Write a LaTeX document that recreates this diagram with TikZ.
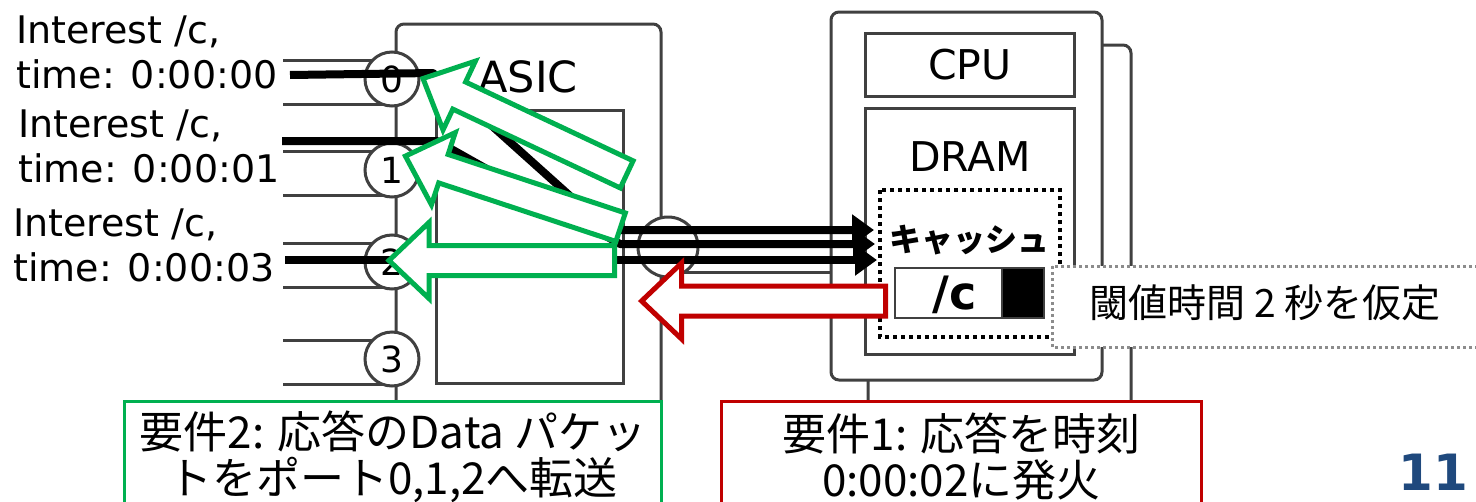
\documentclass[tikz,border=0pt]{standalone}
\usepackage{fontspec}
\setmainfont{DejaVu Sans}
\newfontfamily\jp{Noto Sans CJK JP}
\usepackage{xcolor}
\definecolor{frame}{RGB}{64,64,64}
\definecolor{okgreen}{RGB}{0,176,80}
\definecolor{ngred}{RGB}{192,0,0}
\definecolor{notegray}{RGB}{140,140,140}
\definecolor{slideblue}{RGB}{31,73,125}
\usetikzlibrary{arrows.meta,calc,positioning}

% outlined block arrow from tail to tip
\newcommand{\hollowarrow}[3]{%
  \draw[blockarrow, draw=#1] let \p1=(#2), \p2=(#3),
      \n1={atan2(\y2-\y1,\x2-\x1)}, \n2={veclen(\x2-\x1,\y2-\y1)}, \n3={\n2-40pt} in
    [shift={(\p1)}, rotate=\n1]
    (0pt,-15pt) -- (\n3,-15pt) -- (\n3,-38pt) -- (\n2,0pt)
    -- (\n3,38pt) -- (\n3,15pt) -- (0pt,15pt) -- cycle;}

\begin{document}
\begin{tikzpicture}[x=1pt, y=-1pt,
    box/.style={draw=frame, line width=3pt, fill=white},
    link/.style={draw=frame, line width=3pt},
    port/.style={circle, draw=frame, line width=3pt, fill=white, inner sep=0pt, minimum size=54pt, font=\fontsize{36}{36}\selectfont},
    route/.style={line width=8pt, line join=round, -{Triangle[length=22pt, width=30pt]}},
    blockarrow/.style={line width=5pt, fill=white, line join=miter},
    iflabel/.style={anchor=west, align=left, inner sep=0pt, font=\fontsize{38}{45}\selectfont},
    reqbox/.style={anchor=north west, line width=3pt, fill=white, align=center, minimum height=110pt, inner sep=0pt, font=\jp\fontsize{44}{46}\selectfont}]
    \useasboundingbox (0,0) rectangle (1476,501);

    % ASIC
    \draw[box, rounded corners=8pt] (396,24) rectangle (661,530);
    \draw[box] (436,110) rectangle (623,383);
    \node (asic) at (528,77) {\fontsize{43}{43}\selectfont ASIC};
    \foreach \y in {79,170,262,359} {
        \draw[link] (283,\y-19) -- (396,\y-19);
        \draw[link] (283,\y+25) -- (396,\y+25);
    }
    \draw[link] (661,272) -- (831,272);

    % Ports
    \node[port] (p0) at (392,79) {0};
    \node[port] (p1) at (392,170) {1};
    \node[port] (p2) at (392,262) {2};
    \node[port] (p3) at (392,359) {3};
    \node[port, minimum size=60pt] (pr) at (668,247) {};

    % Incoming interests
    \node[iflabel] (lab0) at (16,52) {Interest /c,\\time: 0:00:00};
    \node[iflabel] (lab1) at (18,146) {Interest /c,\\time: 0:00:01};
    \node[iflabel] (lab2) at (13,245) {Interest /c,\\time: 0:00:03};

    % Server
    \draw[box, rounded corners=8pt] (868,45) rectangle (1131,530);
    \draw[box, rounded corners=8pt] (831,12) rectangle (1102,380);
    \draw[box] (865,33) rectangle (1074,96);
    \node (cpu) at (970,65) {\fontsize{41}{41}\selectfont CPU};
    \draw[box] (865,108) rectangle (1074,354);
    \node (dram) at (970,157) {\fontsize{41}{41}\selectfont DRAM};
    \draw[line width=4pt, dash pattern=on 4pt off 4pt] (880,190) rectangle (1060,337);
    \node (cache) at (969,240) {\jp\bfseries\fontsize{32}{32}\selectfont キャッシュ};
    \draw[line width=2pt, draw=frame, fill=white] (895,268) rectangle (1044,318);
    \draw[line width=2pt, draw=frame, fill=black] (1002,268) rectangle (1044,318);
    \node (key) at (955,295) {\bfseries\fontsize{46}{46}\selectfont /c};

    % Routes to the cache
    \coordinate (in0) at (290,75);
    \coordinate (in1) at (282,141);
    \coordinate (in2) at (285,260);
    \coordinate (c0) at (874,230);
    \coordinate (c1) at (875,244);
    \coordinate (c2) at (877,260);
    \draw[route] (in0) -- (433,73) -- (608,230) -- (c0);
    \draw[route] (in1) -- (437,141) -- (620,244) -- (c1);
    \draw[route] (in2) -- (c2);

    % Data back to the ports
    \coordinate (g0t) at (626.7,174.4);
    \coordinate (g0h) at (423,78.5);
    \coordinate (g1t) at (620.6,227.2);
    \coordinate (g1h) at (405.4,156.1);
    \coordinate (g2t) at (614.5,260.5);
    \coordinate (g2h) at (389,260.5);
    \coordinate (rt) at (885.5,301);
    \coordinate (rh) at (641.6,301);
    \hollowarrow{okgreen}{g0t}{g0h}
    \hollowarrow{okgreen}{g1t}{g1h}
    \hollowarrow{okgreen}{g2t}{g2h}
    \hollowarrow{ngred}{rt}{rh}

    % Notes
    \draw[line width=3pt, draw=notegray, fill=white, dash pattern=on 3pt off 3pt] (1052,266) rectangle (1490,347);
    \node (thresh) at (1265,303) {\jp\fontsize{39}{39}\selectfont 閾値時間 2 秒を仮定};
    \node[reqbox, draw=okgreen, minimum width=537pt] (req2) at (123,400) {要件2: 応答のData パケッ\\トをポート0,1,2へ転送};
    \node[reqbox, draw=ngred, minimum width=480pt] (req1) at (720,400) {要件1: 応答を時刻\\0:00:02に発火};
    \node[anchor=base east, inner sep=0pt, text=slideblue, font=\bfseries\fontsize{50}{50}\selectfont] (pageno) at (1468,490) {11};
\end{tikzpicture}
\end{document}
